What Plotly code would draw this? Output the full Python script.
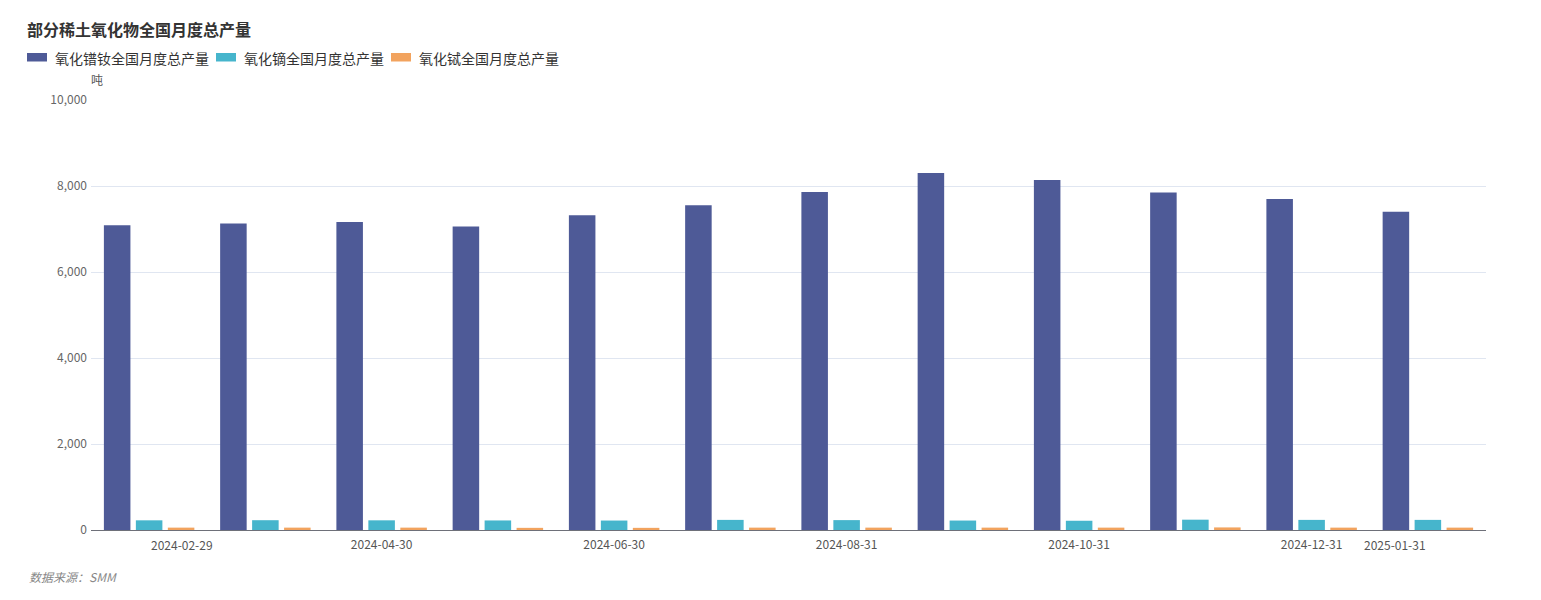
import plotly.graph_objects as go

months = ['2024-02-29', '2024-03-31', '2024-04-30', '2024-05-31', '2024-06-30', '2024-07-31',
          '2024-08-31', '2024-09-30', '2024-10-31', '2024-11-30', '2024-12-31', '2025-01-31']
prnd = [7090, 7130, 7160, 7060, 7320, 7550, 7860, 8300, 8140, 7850, 7700, 7400]
dy = [225, 228, 225, 222, 220, 235, 230, 220, 215, 240, 235, 235]
tb = [55, 55, 55, 50, 50, 55, 55, 55, 55, 60, 55, 55]

names = ['氧化镨钕全国月度总产量', '氧化镝全国月度总产量', '氧化铽全国月度总产量']
colors = ['#4E5A97', '#46B5CC', '#F2A35E']

# page has an 8px body margin, so work in page pixels and shift
OFF = 8
W, H = 1541 - 2 * OFF, 600 - 2 * OFF
L, R, T, B = 91, 1486, 100, 530   # plot area, page pixels


def px(x):
    return (x - L) / (R - L)


def py(y):
    return (B - y) / (B - T)


fig = go.Figure()
for name, vals, c in zip(names, [prnd, dy, tb], colors):
    fig.add_trace(go.Bar(x=months, y=vals, name=name, marker_color=c,
                         marker_line_width=0))

fig.update_layout(
    width=W, height=H,
    margin=dict(l=L - OFF, r=W - (R - OFF), t=T - OFF, b=H - (B - OFF)),
    paper_bgcolor='white', plot_bgcolor='white',
    barmode='group', bargap=0.175, bargroupgap=0.17,
    showlegend=False,
    font=dict(family='Noto Sans CJK SC, sans-serif', size=12, color='#555'),
    title=dict(text='<b>部分稀土氧化物全国月度总产量</b>', xref='container', yref='container',
               x=(27 - OFF) / W, y=1 - (30 - OFF) / H, xanchor='left', yanchor='middle',
               font=dict(size=16, color='#333')),
)

# only every other month labelled; first and last are aligned inward
mid = months[2:11:2]
fig.update_xaxes(type='category', tickvals=mid, ticktext=mid, showgrid=False,
                 showline=True, linecolor='#6E7079', linewidth=1, ticks='',
                 ticklabelstandoff=4, tickfont=dict(size=12, color='#555'))
fig.update_yaxes(range=[0, 10000], dtick=2000, tickformat=',', showgrid=True,
                 gridcolor='#E0E6F1', zeroline=False, showline=False, ticks='',
                 ticklabelstandoff=3, tickfont=dict(size=12, color='#666'))

fig.add_annotation(x=months[0], xref='x', y=0, yref='paper', yanchor='top', yshift=-4,
                   xanchor='left', text=months[0], showarrow=False,
                   font=dict(size=12, color='#555'))
fig.add_annotation(x=months[-1], xref='x', y=0, yref='paper', yanchor='top', yshift=-4,
                   xanchor='right', text=months[-1], showarrow=False,
                   font=dict(size=12, color='#555'))

# unit
fig.add_annotation(x=px(97), y=py(80), xref='paper', yref='paper', text='吨',
                   showarrow=False, xanchor='center', yanchor='middle',
                   font=dict(size=12, color='#555'))

# source
fig.add_annotation(x=px(27), y=py(576), xref='paper', yref='paper', text='<i>数据来源：SMM</i>',
                   showarrow=False, xanchor='left', yanchor='middle',
                   font=dict(size=12, color='#888'))

# legend drawn by hand (wide rect icons)
cx = 27
for name, c in zip(names, colors):
    fig.add_shape(type='rect', xref='paper', yref='paper',
                  x0=px(cx), x1=px(cx + 20), y0=py(61.5), y1=py(53),
                  fillcolor=c, line_width=0)
    fig.add_annotation(x=px(cx + 26), y=py(57.5), xref='paper', yref='paper', text=name,
                       showarrow=False, xanchor='left', yanchor='middle',
                       font=dict(size=14, color='#333'))
    cx += 26 + len(name) * 14 + 9

fig.write_html('out.html')
